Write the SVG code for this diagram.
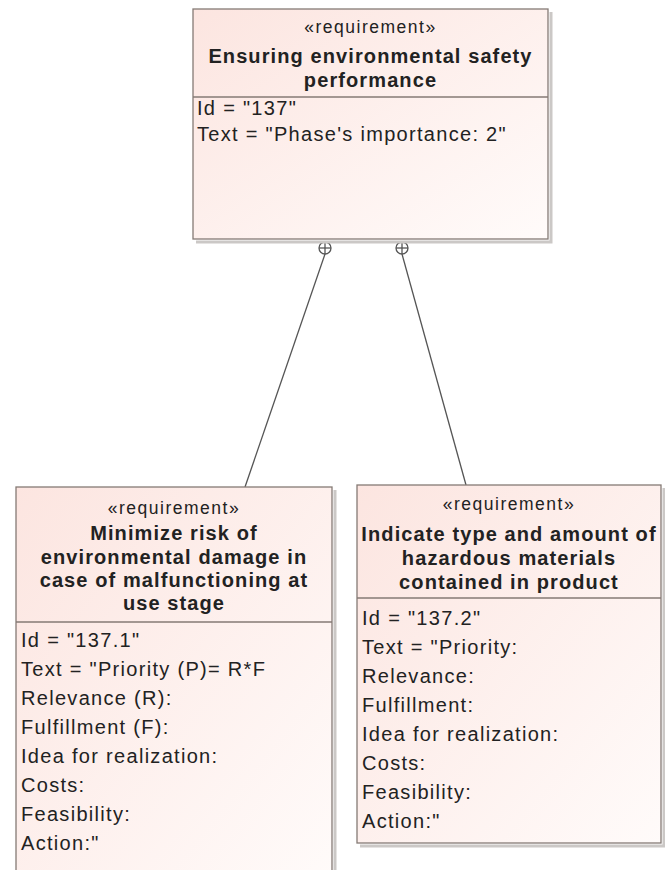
<svg xmlns="http://www.w3.org/2000/svg" width="665" height="870" viewBox="0 0 665 870">
<style>
.box{fill:url(#req);stroke:#857a75;stroke-width:1.3}
.shadow{fill:none;stroke:#cbc8c6;stroke-width:3}
.sep{stroke:#857a75;stroke-width:1.3}
.st{font-family:"Liberation Sans",Arial,sans-serif;font-size:17.5px;letter-spacing:1.5px;fill:#222;text-anchor:middle}
.ti{font-family:"Liberation Sans",Arial,sans-serif;font-size:20px;font-weight:bold;letter-spacing:1.1px;fill:#222;text-anchor:middle}
.at{font-family:"Liberation Sans",Arial,sans-serif;font-size:20px;letter-spacing:1.3px;fill:#222}
.conn{stroke:#555;stroke-width:1.3;fill:none}
</style>
<defs>
<linearGradient id="req" x1="0" y1="0" x2="1" y2="1">
<stop offset="0" stop-color="#fce5e0"/>
<stop offset="1" stop-color="#fffbfa"/>
</linearGradient>
</defs>
<rect width="665" height="870" fill="#ffffff"/>

<g id="connectors">
<line class="conn" x1="325" y1="254" x2="245" y2="487"/>
<line class="conn" x1="402" y1="254" x2="466" y2="485"/>
<g>
<circle cx="325" cy="248" r="6" fill="#ffffff" stroke="#555" stroke-width="1.3"/>
<line class="conn" x1="319" y1="248" x2="331" y2="248"/>
<line class="conn" x1="325" y1="242" x2="325" y2="254"/>
</g>
<g>
<circle cx="402" cy="248" r="6" fill="#ffffff" stroke="#555" stroke-width="1.3"/>
<line class="conn" x1="396" y1="248" x2="408" y2="248"/>
<line class="conn" x1="402" y1="242" x2="402" y2="254"/>
</g>
</g>

<g id="req137">
<path class="shadow" d="M551 12 V242 H196"/>
<rect class="box" x="193" y="9" width="355" height="230"/>
<line class="sep" x1="193" y1="97" x2="548" y2="97"/>
<text class="st" x="370.5" y="33">«requirement»</text>
<text class="ti" x="370.5" y="63">Ensuring environmental safety</text>
<text class="ti" x="370.5" y="87">performance</text>
<text class="at" x="197" y="115">Id = "137"</text>
<text class="at" x="197" y="141">Text = "Phase's importance: 2"</text>
</g>

<g id="req137_1">
<path class="shadow" d="M335 490 V875"/>
<rect class="box" x="16" y="487" width="316" height="395"/>
<line class="sep" x1="16" y1="622" x2="332" y2="622"/>
<text class="st" x="174" y="514">«requirement»</text>
<text class="ti" x="174" y="540">Minimize risk of</text>
<text class="ti" x="174" y="564">environmental damage in</text>
<text class="ti" x="174" y="587">case of malfunctioning at</text>
<text class="ti" x="174" y="610">use stage</text>
<text class="at" x="21" y="647">Id = "137.1"</text>
<text class="at" x="21" y="676">Text = "Priority (P)= R*F</text>
<text class="at" x="21" y="705">Relevance (R):</text>
<text class="at" x="21" y="734">Fulfillment (F):</text>
<text class="at" x="21" y="763">Idea for realization:</text>
<text class="at" x="21" y="792">Costs:</text>
<text class="at" x="21" y="821">Feasibility:</text>
<text class="at" x="21" y="850">Action:"</text>
</g>

<g id="req137_2">
<path class="shadow" d="M664 488 V846 H360"/>
<rect class="box" x="357" y="485" width="304" height="358"/>
<line class="sep" x1="357" y1="598" x2="661" y2="598"/>
<text class="st" x="509" y="510">«requirement»</text>
<text class="ti" x="509" y="541">Indicate type and amount of</text>
<text class="ti" x="509" y="565">hazardous materials</text>
<text class="ti" x="509" y="589">contained in product</text>
<text class="at" x="362" y="625">Id = "137.2"</text>
<text class="at" x="362" y="654">Text = "Priority:</text>
<text class="at" x="362" y="683">Relevance:</text>
<text class="at" x="362" y="712">Fulfillment:</text>
<text class="at" x="362" y="741">Idea for realization:</text>
<text class="at" x="362" y="770">Costs:</text>
<text class="at" x="362" y="799">Feasibility:</text>
<text class="at" x="362" y="828">Action:"</text>
</g>
</svg>
